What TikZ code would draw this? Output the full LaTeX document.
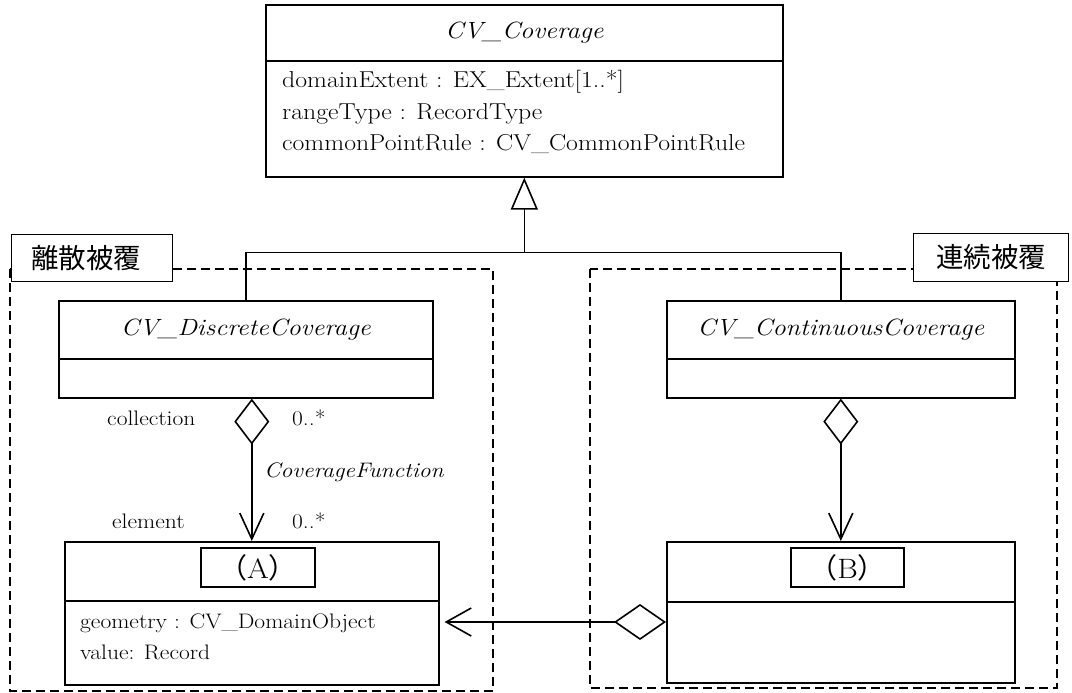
\documentclass[tikz,border=0pt]{standalone}
\usepackage{fontspec}
\setmainfont{Latin Modern Roman}[FakeStretch=1.12]
\newfontfamily\cjk{Noto Sans CJK JP}
\usetikzlibrary{arrows.meta,calc}
\tikzset{
    umlbox/.style={draw,line width=1.6pt,inner sep=0pt,anchor=north west},
    pkgframe/.style={draw,line width=1.8pt,dash pattern=on 9pt off 5pt},
    pkgtag/.style={draw,fill=white,line width=1pt,inner sep=0pt,anchor=north west,font=\cjk\fontsize{27.5}{30}\selectfont},
    tagbox/.style={draw,line width=1.6pt,inner sep=0pt,minimum width=114,minimum height=39,font=\fontsize{28}{30}\selectfont},
    clsname/.style={font=\itshape\fontsize{23.5}{28}\selectfont},
    attrtext/.style={inner sep=0pt,anchor=base west},
    role/.style={inner sep=0pt,anchor=base west,font=\fontsize{21}{24}\selectfont},
    conn/.style={line width=1.6pt},
}
\begin{document}
\begin{tikzpicture}[x=1pt,y=-1pt]
        \useasboundingbox (0,0) rectangle (1072,693);
        \draw[pkgframe] (10,269) rectangle (493,691);
        \draw[pkgframe] (590,269) rectangle (1057,688);
        \node[pkgtag,minimum width=161,minimum height=47] (tagdisc) at (11,234) {離散被覆\hspace*{12pt}};
        \node[pkgtag,minimum width=155,minimum height=48] (tagcont) at (913,233) {連続被覆};
        \node[umlbox,clsname,minimum width=517,minimum height=56] (cov) at (265,4) {CV\_Coverage};
        \node[umlbox,minimum width=517,minimum height=116] (covattr) at (265,60) {};
        \foreach \txt [count=\i] in {{domainExtent : EX\_Extent[1..*]},{rangeType : RecordType},{commonPointRule : CV\_CommonPointRule}}
            \node[attrtext,font=\fontsize{23}{28}\selectfont] (covline\i) at (282,57+31*\i) {\txt};
        \node[umlbox,clsname,minimum width=374,minimum height=58] (disc) at (58,300) {CV\_DiscreteCoverage};
        \node[umlbox,minimum width=374,minimum height=39] (discattr) at (58,358) {};
        \node[umlbox,clsname,minimum width=348,minimum height=58] (cont) at (666,300) {CV\_ContinuousCoverage};
        \node[umlbox,minimum width=348,minimum height=39] (contattr) at (666,358) {};
        \node[umlbox,minimum width=374,minimum height=59] (clsa) at (64,541) {};
        \node[umlbox,minimum width=374,minimum height=84] (clsaattr) at (64,600) {};
        \node[tagbox] (taga) at (258,567.5) {{\cjk （}A{\cjk ）}};
        \foreach \txt [count=\i] in {{geometry : CV\_DomainObject},{value: Record}}
            \node[attrtext,font=\fontsize{21}{24}\selectfont] (aline\i) at (80,597+31*\i) {\txt};
        \node[umlbox,minimum width=348,minimum height=60] (clsb) at (666,541) {};
        \node[umlbox,minimum width=348,minimum height=81] (clsbattr) at (666,601) {};
        \node[tagbox,minimum width=113] (tagb) at (847.5,567.5) {{\cjk （}B{\cjk ）}};
        \node[role] (collab) at (107,425) {collection};
        \node[role] (collmul) at (292,425) {0..*};
        \node[role,font=\itshape\fontsize{21}{24}\selectfont] (funclab) at (264,477) {CoverageFunction};
        \node[role] (elemlab) at (112,528) {element};
        \node[role] (elemmul) at (292,528) {0..*};
        \path (covattr.south) ++(0,75) coordinate (split);
        \draw[conn] (disc.north) |- (split) -| (cont.north);
        \draw[conn,-{Triangle[open,length=32pt,width=27pt]}] (split) -- (covattr.south);
        \draw[conn,{Diamond[open,length=46pt,width=35pt]}-{Straight Barb[length=26pt,width=24pt]}]
            (clsa.north |- discattr.south) -- (clsa.north);
        \draw[conn,{Diamond[open,length=46pt,width=35pt]}-{Straight Barb[length=26pt,width=24pt]}]
            (contattr.south) -- (clsb.north);
        \path (clsbattr.north west) ++(0,21) coordinate (bjoin);
        \draw[conn,shorten >=5pt,{Diamond[open,length=52pt,width=36pt]}-{Straight Barb[length=25pt,width=28pt]}]
            (bjoin) -- (bjoin -| clsaattr.east);
    \end{tikzpicture}
\end{document}
